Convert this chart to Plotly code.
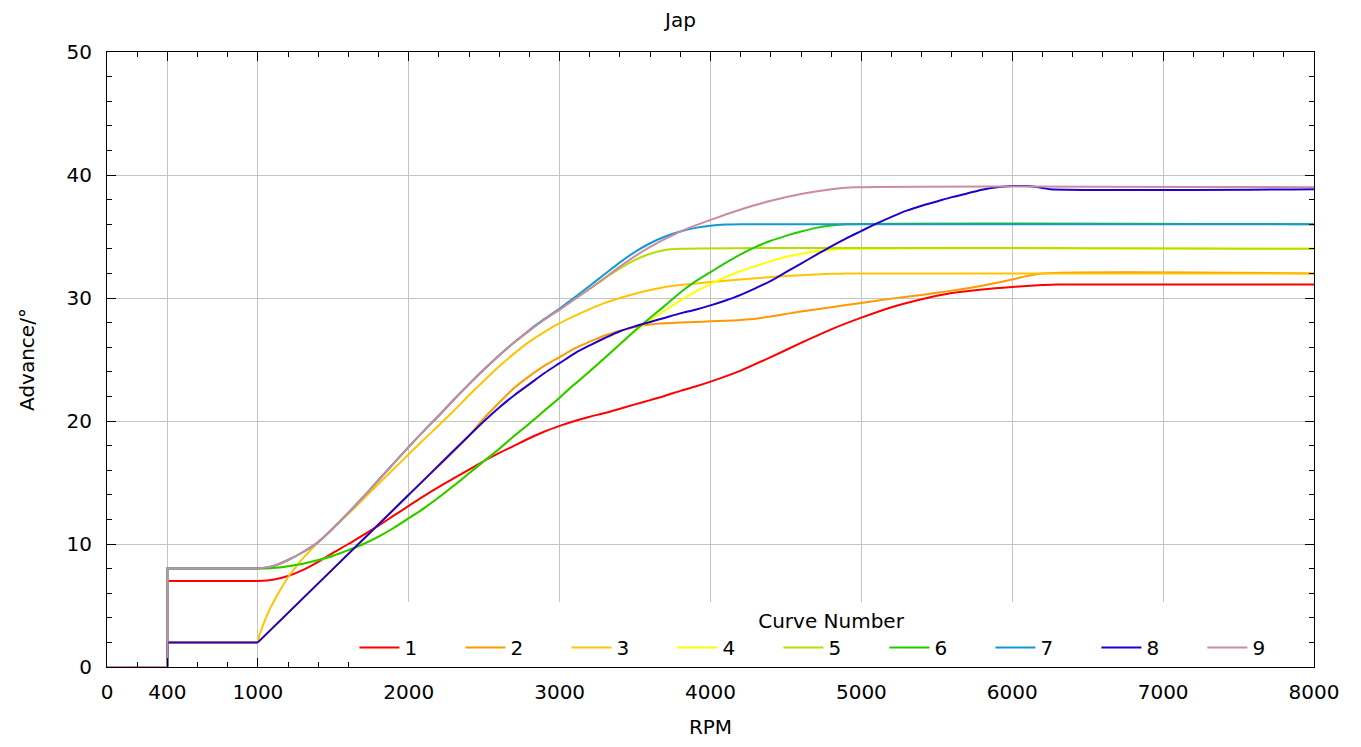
import plotly.graph_objects as go

# ---- data (RPM vs advance in degrees) ----
rpm_1 = [0, 400, 400, 1000, 1100, 1200, 1300, 1400, 1500, 1600, 1700, 1800, 1900, 2000, 2100, 2200, 2300, 2400, 2500,
         2600, 2700, 2800, 2900, 3000, 3100, 3200, 3300, 3400, 3500, 3600, 3700, 3800, 3900, 4000, 4200, 4400, 4600,
         4800, 5000, 5200, 5400, 5600, 5800, 6000, 6200, 6300, 8000]
adv_1 = [0, 0, 7.0, 7.0, 7.1, 7.4, 7.9, 8.55, 9.3, 10.0, 10.75, 11.5, 12.3, 13.1, 13.9, 14.65, 15.35, 16.05, 16.75,
         17.4, 18.0, 18.6, 19.15, 19.6, 20.0, 20.35, 20.65, 21.0, 21.35, 21.7, 22.05, 22.45, 22.8, 23.2, 24.1, 25.2,
         26.35, 27.45, 28.4, 29.25, 29.9, 30.4, 30.7, 30.9, 31.05, 31.1, 31.1]

rpm_2 = [0, 400, 400, 1000, 1500, 2000, 2400, 2500, 2600, 2700, 2800, 2900, 3000, 3100, 3200, 3300, 3400, 3500, 3600,
         3700, 3800, 3900, 4000, 4100, 4200, 4300, 4400, 4500, 4600, 4800, 5000, 5200, 5400, 5600, 5800, 6000, 6100,
         6200, 8000]
adv_2 = [0, 0, 2.0, 2.0, 8.0, 14.0, 18.8, 20.25, 21.5, 22.7, 23.65, 24.5, 25.2, 25.9, 26.45, 26.95, 27.35, 27.65,
         27.85, 27.95, 28.0, 28.05, 28.1, 28.15, 28.22, 28.32, 28.5, 28.7, 28.9, 29.25, 29.6, 29.95, 30.25, 30.6, 31.0,
         31.5, 31.8, 32.0, 32.0]

rpm_3 = [0, 400, 400, 1000, 1010, 1025, 1050, 1075, 1100, 1150, 1200, 1250, 1300, 1350, 1400, 1500, 1600, 1700, 1800,
         1900, 2000, 2100, 2200, 2300, 2400, 2500, 2600, 2700, 2800, 2900, 3000, 3100, 3200, 3300, 3400, 3500, 3600,
         3700, 3800, 4000, 4200, 4400, 4600, 4800, 4900, 8000]
adv_3 = [0, 0, 2.0, 2.0, 2.6, 3.1, 3.9, 4.6, 5.2, 6.3, 7.3, 8.1, 8.85, 9.5, 10.15, 11.3, 12.45, 13.65, 14.9, 16.1,
         17.3, 18.5, 19.65, 20.85, 22.1, 23.3, 24.45, 25.5, 26.45, 27.25, 27.95, 28.55, 29.1, 29.6, 30.0, 30.35, 30.65,
         30.9, 31.05, 31.3, 31.5, 31.7, 31.85, 31.97, 32.0, 32.0]

rpm_4 = [0, 400, 400, 1000, 1100, 1200, 1300, 1400, 1500, 1600, 1700, 1800, 1900, 2000, 2100, 2200, 2300, 2400, 2500,
         2600, 2700, 2800, 2900, 3000, 3100, 3200, 3300, 3400, 3500, 3600, 3700, 3800, 3900, 4000, 4100, 4200, 4300,
         4400, 4500, 4600, 4700, 4800, 4900, 8000]
adv_4 = [0, 0, 8.0, 8.0, 8.05, 8.2, 8.4, 8.7, 9.05, 9.5, 10.0, 10.6, 11.3, 12.1, 12.9, 13.8, 14.75, 15.75, 16.75,
         17.75, 18.8, 19.8, 20.85, 21.9, 23.0, 24.05, 25.15, 26.25, 27.3, 28.2, 29.0, 29.8, 30.5, 31.15, 31.7, 32.2,
         32.6, 33.0, 33.35, 33.6, 33.8, 33.92, 34.0, 34.0]

rpm_5 = [0, 400, 400, 1000, 1100, 1200, 1300, 1400, 1500, 1600, 1700, 1800, 1900, 2000, 2100, 2200, 2300, 2400, 2500,
         2600, 2700, 2800, 2900, 3000, 3100, 3200, 3300, 3400, 3500, 3600, 3700, 3800, 8000]
adv_5 = [0, 0, 8.0, 8.0, 8.2, 8.7, 9.35, 10.15, 11.3, 12.55, 13.85, 15.2, 16.55, 17.9, 19.2, 20.45, 21.75, 23.0, 24.2,
         25.35, 26.4, 27.35, 28.25, 29.05, 29.9, 30.75, 31.6, 32.4, 33.1, 33.6, 33.9, 34.0, 34.0]

rpm_6 = [0, 400, 400, 1000, 1100, 1200, 1300, 1400, 1500, 1600, 1700, 1800, 1900, 2000, 2100, 2200, 2300, 2400, 2500,
         2600, 2700, 2800, 2900, 3000, 3100, 3200, 3300, 3400, 3500, 3600, 3700, 3800, 3900, 4000, 4100, 4200, 4300,
         4400, 4500, 4600, 4700, 4800, 4900, 8000]
adv_6 = [0, 0, 8.0, 8.0, 8.05, 8.2, 8.4, 8.7, 9.05, 9.5, 10.0, 10.6, 11.3, 12.1, 12.9, 13.8, 14.75, 15.75, 16.75,
         17.75, 18.8, 19.8, 20.85, 21.9, 23.0, 24.05, 25.15, 26.25, 27.35, 28.4, 29.4, 30.45, 31.35, 32.1, 32.85,
         33.55, 34.15, 34.65, 35.05, 35.4, 35.7, 35.9, 36.0, 36.0]

rpm_7 = [0, 400, 400, 1000, 1100, 1200, 1300, 1400, 1500, 1600, 1700, 1800, 1900, 2000, 2100, 2200, 2300, 2400, 2500,
         2600, 2700, 2800, 2900, 3000, 3100, 3200, 3300, 3400, 3500, 3600, 3700, 3800, 3900, 4000, 4100, 4200, 8000]
adv_7 = [0, 0, 8.0, 8.0, 8.2, 8.7, 9.35, 10.15, 11.3, 12.55, 13.85, 15.2, 16.55, 17.9, 19.2, 20.45, 21.75, 23.0, 24.2,
         25.35, 26.4, 27.4, 28.3, 29.15, 30.05, 31.0, 31.95, 32.9, 33.75, 34.45, 35.0, 35.4, 35.7, 35.88, 35.97, 36.0,
         36.0]

rpm_8 = [0, 400, 400, 1000, 1500, 2000, 2500, 2600, 2700, 2800, 2900, 3000, 3100, 3200, 3300, 3400, 3500, 3600, 3700,
         3800, 3900, 4000, 4100, 4200, 4300, 4400, 4500, 4600, 4700, 4800, 4900, 5000, 5100, 5200, 5300, 5400, 5500,
         5600, 5700, 5800, 5900, 6000, 6100, 6200, 6250, 8000]
adv_8 = [0, 0, 2.0, 2.0, 8.0, 14.0, 20.0, 21.1, 22.1, 23.0, 23.9, 24.7, 25.5, 26.15, 26.75, 27.3, 27.7, 28.05, 28.4,
         28.75, 29.05, 29.4, 29.8, 30.25, 30.8, 31.4, 32.1, 32.8, 33.5, 34.2, 34.85, 35.45, 36.05, 36.6, 37.1, 37.5,
         37.85, 38.2, 38.5, 38.8, 39.0, 39.1, 39.1, 38.95, 38.85, 38.85]

rpm_9 = [0, 400, 400, 1000, 1100, 1200, 1300, 1400, 1500, 1600, 1700, 1800, 1900, 2000, 2100, 2200, 2300, 2400, 2500,
         2600, 2700, 2800, 2900, 3000, 3100, 3200, 3300, 3400, 3500, 3600, 3700, 3800, 3900, 4000, 4200, 4400, 4600,
         4800, 4950, 8000]
adv_9 = [0, 0, 8.0, 8.0, 8.2, 8.7, 9.35, 10.15, 11.3, 12.55, 13.85, 15.2, 16.55, 17.9, 19.2, 20.45, 21.75, 23.0, 24.2,
         25.35, 26.4, 27.35, 28.25, 29.05, 29.9, 30.75, 31.65, 32.55, 33.4, 34.15, 34.8, 35.4, 35.9, 36.35, 37.2,
         37.9, 38.45, 38.85, 39.0, 39.0]

curve_names = ["1", "2", "3", "4", "5", "6", "7", "8", "9"]
curve_colors = ["#ff0000", "#ff9900", "#ffc400", "#ffff00", "#b2e000", "#22cc00", "#1599d2", "#2200cc", "#cc8aa6"]
curve_rpm = [rpm_1, rpm_2, rpm_3, rpm_4, rpm_5, rpm_6, rpm_7, rpm_8, rpm_9]
curve_adv = [adv_1, adv_2, adv_3, adv_4, adv_5, adv_6, adv_7, adv_8, adv_9]

x_tickvals = [0, 400, 1000, 2000, 3000, 4000, 5000, 6000, 7000, 8000]
x_ticktext = ["0", "400", "1000", "2000", "3000", "4000", "5000", "6000", "7000", "8000"]
x_minor = list(range(0, 8001, 200))
y_tickvals = [0, 10, 20, 30, 40, 50]
y_minor = list(range(0, 51, 2))

FONT = "DejaVu Sans"
STEP_END = 3  # the idle step (0 -> 400 -> jump -> flat to 1000) is drawn straight

fig = go.Figure()
for name, color, xs, ys in zip(curve_names, curve_colors, curve_rpm, curve_adv):
    # straight idle step part (not in legend)
    fig.add_trace(go.Scatter(x=xs[:STEP_END + 1], y=ys[:STEP_END + 1], mode="lines", name=name,
                             legendgroup=name, showlegend=False, hoverinfo="skip",
                             line=dict(color=color, width=2)))
    # smooth advance curve from 1000 RPM upward
    fig.add_trace(go.Scatter(x=xs[STEP_END:], y=ys[STEP_END:], mode="lines", name=name,
                             legendgroup=name,
                             line=dict(color=color, width=2, shape="spline", smoothing=0.8)))

axis_common = dict(
    showline=True, linecolor="black", linewidth=1, mirror="allticks",
    ticks="inside", ticklen=9, tickwidth=1, tickcolor="black",
    showgrid=True, gridcolor="#c4c4c4", gridwidth=1, zeroline=False,
    tickfont=dict(family=FONT, size=20, color="black"),
)

fig.update_xaxes(
    range=[0, 8000], tickmode="array", tickvals=x_tickvals, ticktext=x_ticktext,
    minor=dict(tickmode="array", tickvals=x_minor, ticks="inside", ticklen=5, tickcolor="black", showgrid=False),
    title=dict(text="RPM", font=dict(family=FONT, size=20, color="black"), standoff=16),
    ticklabelstandoff=7,
    **axis_common,
)
fig.update_yaxes(
    range=[0, 50], tickmode="array", tickvals=y_tickvals,
    minor=dict(tickmode="array", tickvals=y_minor, ticks="inside", ticklen=5, tickcolor="black", showgrid=False),
    title=dict(text="Advance/°", font=dict(family=FONT, size=20, color="black"), standoff=26),
    ticklabelstandoff=10,
    **axis_common,
)

fig.update_layout(
    width=1345, height=731,
    margin=dict(l=99, r=39, t=44, b=72, autoexpand=False),
    paper_bgcolor="white", plot_bgcolor="white",
    font=dict(family=FONT, size=20, color="black"),
    title=dict(text="Jap", x=0.5, xanchor="center", y=0.984, yanchor="middle",
               font=dict(family=FONT, size=20, color="black")),
    showlegend=True,
    legend=dict(
        orientation="h", x=0.205, xanchor="left", y=0.0, yanchor="bottom",
        bgcolor="white", borderwidth=0,
        font=dict(family=FONT, size=20, color="black"),
        title=dict(text="Curve Number", side="top center", font=dict(family=FONT, size=20, color="black")),
        entrywidth=51, entrywidthmode="pixels", itemwidth=40,
    ),
)

fig.write_html("out.html")
